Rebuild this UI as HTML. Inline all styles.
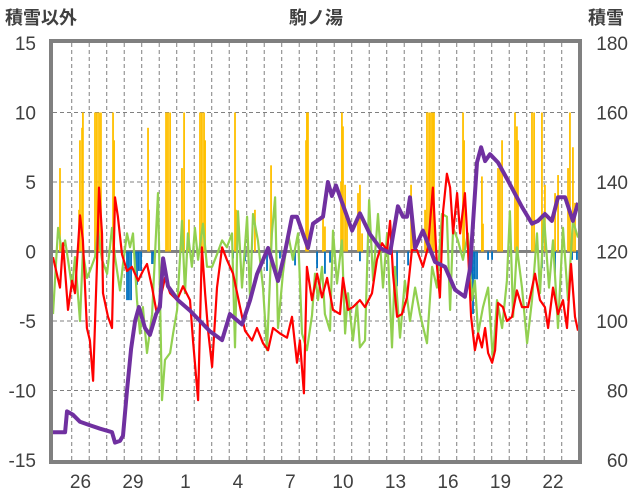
<!DOCTYPE html>
<html><head><meta charset="utf-8">
<style>
html,body{margin:0;padding:0;background:#fff;}
svg{display:block;font-family:"Liberation Sans","Noto Sans CJK JP",sans-serif;}
</style></head>
<body>
<svg id="chart" width="636" height="501" viewBox="0 0 636 501" xmlns="http://www.w3.org/2000/svg">
<text x="5" y="24" font-size="18" font-weight="bold" fill="#404040">積雪以外</text>
<text x="316" y="24" font-size="18" font-weight="bold" fill="#404040" text-anchor="middle">駒ノ湯</text>
<text x="588" y="24" font-size="18" font-weight="bold" fill="#404040">積雪</text>
<g id="grid"></g>
<g id="bars"></g>
<g id="lines"></g>
<g id="axes"></g>
</svg>
<script>
const xTickLabels=["26","29","1","4","7","10","13","16","19","22"];
const xTickDays=[1.57,4.57,7.57,10.57,13.57,16.57,19.57,22.57,25.57,28.57];
const leftTicks=[15,10,5,0,-5,-10,-15];
const rightTicks=[180,160,140,120,100,80,60];
const redT=[0,.4,.57,.86,1.09,1.26,1.54,1.71,1.94,2.11,2.29,2.51,2.63,2.8,2.86,3.14,3.37,3.54,3.71,3.94,4.23,4.51,4.86,5.14,5.37,5.66,5.94,6.4,6.69,7.09,7.43,7.83,8,8.29,8.51,8.69,8.86,9.09,9.37,9.66,9.94,10.29,10.57,10.97,11.37,11.66,12,12.29,12.57,12.97,13.37,13.66,13.94,14.11,14.34,14.51,14.8,15.09,15.37,15.66,16,16.4,16.57,16.86,17.14,17.54,17.83,18.23,18.51,18.8,19.09,19.26,19.43,19.66,19.94,20.23,20.51,20.8,21.14,21.43,21.71,21.94,22.11,22.29,22.51,22.69,22.86,23.09,23.26,23.54,23.71,23.89,24.11,24.29,24.51,24.69,24.86,25.09,25.26,25.43,25.71,25.94,26.23,26.51,26.8,27.14,27.54,27.83,28.11,28.29,28.57,28.86,29.14,29.37,29.6,29.83,30];
const redV=[-.4,-2.6,.6,-4.2,-2.1,-3,2.6,.8,-5.5,-6.4,-9.3,-1.1,4.6,1.3,-3,-4.7,-5.5,3.9,2.5,-.2,-1.4,-1.1,-2.1,-1.4,-.9,-2.6,-4.5,-1.9,-3,-3.5,-2.5,-3.5,-6.4,-10.7,.3,-3,-5.7,-8.3,-2.6,.3,-.6,-1.6,-3.3,-5.7,-6.4,-5.5,-6.6,-7.1,-5.5,-5.9,-6.2,-4.7,-8,-6.4,-10.2,-1.1,-3.5,-1.6,-3.3,-1.9,-4.2,-4.5,-1.9,-4.2,-4,-3.5,-4,-3,-.6,.6,.1,2.2,-1.6,-4.7,-4.5,-3.3,.1,.1,-1.1,.3,4.6,-1.1,-3.3,2.9,5.6,4.6,1.3,4.2,1.3,4.2,.3,-4.7,-7.1,-5.9,-6.9,-5.5,-7.3,-8,-7.1,-3.7,-4,-5,-4.7,-2.8,-4,-4,-1.6,-3.5,-4,-5.5,-2.6,-4.5,-3.5,-5.5,-.9,-4.7,-5.7];
const greenT=[0,.29,.51,.69,.86,1.09,1.26,1.54,1.71,1.94,2.11,2.4,2.57,2.8,3.09,3.37,3.54,3.83,4,4.23,4.4,4.57,4.8,4.97,5.14,5.37,5.66,6,6.23,6.4,6.69,6.86,7.09,7.37,7.54,7.71,7.94,8.11,8.29,8.57,8.8,9.09,9.37,9.66,9.94,10.23,10.4,10.57,10.8,11.09,11.26,11.43,11.71,12,12.23,12.51,12.69,12.86,13.14,13.43,13.71,14,14.23,14.51,14.8,14.97,15.14,15.37,15.54,15.83,16,16.23,16.51,16.69,16.86,17.14,17.37,17.54,17.83,18.06,18.29,18.57,18.86,19.09,19.37,19.54,19.83,20.11,20.4,20.69,20.97,21.37,21.66,21.94,22.23,22.51,22.69,22.86,23.14,23.43,23.71,23.94,24.11,24.29,24.57,24.86,25.14,25.37,25.66,25.94,26.11,26.29,26.51,26.8,27.09,27.37,27.66,27.83,28.06,28.34,28.57,28.86,29.14,29.43,29.71,30];
const greenV=[-4.5,1.7,0,.8,-.6,-2.6,-.4,-5,0,-1.9,-1.4,-.4,1.5,-.6,-1.6,1.7,-.4,-2.8,-.9,1.3,.3,1.3,-3.5,-5.9,-4,-7.3,-4.5,4.2,-10.7,-7.8,-7.3,-5.9,-4.2,2.2,-3,1.3,-1.1,1.7,-.6,2,-1.1,-1.1,-.2,.8,.3,1.3,-6.9,2.9,-2.6,2.5,-3.5,2.7,.8,-2.6,-7.1,1.3,3.9,-5.5,-1.6,1.3,-.6,1.3,-5.9,-7.1,-4.6,-1.6,-3.5,-1.1,-4.5,-5.7,1.5,-2.3,.8,-5.9,-3,-6.4,-3.7,-6.9,-6.4,3.7,-2.1,2.7,-2.6,1.3,-6.9,-1.1,-6.2,-2.1,-5,-2.6,-4.5,-6.6,-1.1,-2.6,2.7,2.5,-4.2,1.7,.8,-.6,1.3,-3.5,-2.1,-5.9,-4,-2.6,-7.8,-3.5,-5.5,-2.1,2.9,-4.7,.3,-2.6,-6.6,-3.5,1.3,-3,2.5,-2.6,.8,-5.5,1.7,-3.5,2.2,1];
const snowT=[0,.69,.8,1.14,1.54,2.11,2.69,3.37,3.54,3.83,4,4.23,4.46,4.69,4.91,5.26,5.54,5.89,6.11,6.29,6.57,7.14,7.83,8.4,8.97,9.66,10.11,10.8,11.26,11.66,12.29,12.86,13.26,13.66,13.94,14.57,14.86,15.43,15.71,15.94,16.17,17.09,17.54,18.11,18.69,19.26,19.71,20,20.23,20.4,20.69,21.14,21.83,22.4,22.97,23.54,23.83,24.23,24.46,24.69,24.97,25.43,26,26.8,27.37,27.71,28.11,28.51,28.86,29.26,29.71,30];
const snowV=[68,68,74,73,71,70,69,68,65,65.5,67,80,92,100,104,98,96,102,104,118,110,106,103,100,97,94.5,102,99,106,113.5,121,111.5,120,130,130,121,128,130,140,136,139,126,131,125,121,119.6,133,130,130,135.6,121,126,117,115.6,109,107,115,145.6,150,146,148,145.6,140.4,132.8,128,128.8,130.8,128.8,135.6,135.6,128.8,134];
const precipT=[.4,1.49,1.54,1.66,1.71,2.4,2.51,2.63,2.74,3.43,3.49,5.43,5.49,6.46,6.57,6.69,7.37,7.49,7.77,8.4,8.51,8.63,8.69,10.4,10.46,11.54,12.46,14.46,14.51,14.57,15.43,15.54,16.46,16.51,16.57,16.69,16.8,17.43,17.54,17.66,20.46,20.51,21.26,21.37,21.49,21.6,21.71,21.77,23.43,23.49,24.51,24.57,25.43,25.54,25.66,26.4,26.51,26.57,27.37,27.49,27.94,28.11,28.69,28.86,29.43,29.54,29.71,29.83];
const precipV=[6,3,8,8.9,10,10,10,10,10,10,8,8.9,3,10,10,10,6,10,2.3,10,10,10,8,10,3,3,6.2,8,10,10,3,1.8,5,10,9,4.8,2.3,4.2,4.8,1.3,4.8,1.3,3,10,10,10,10,10,10,8,5.4,2,6,6.4,8,10,9,8,10,10,10,4.8,4.2,5.5,6,10,7.5,3.5];
const meltT=[4.23,4.34,4.46,4.69,4.8,4.91,5.03,5.66,5.77,10.29,10.97,12.23,12.97,13.83,15.09,15.54,15.83,17.54,19.66,20.29,23.94,24,24.11,24.23,24.86,25.09,27.94,28.69,29.66,29.94];
const meltV=[-3.5,-3.5,-3.5,-1.4,-2.4,-1.4,-1.4,-.9,-.9,-.5,-.7,-1.4,-.5,-1,-1.2,-1.6,-.8,-.7,-2.5,-1,-2,-4.5,-2,-2,-.6,-.6,-1.2,-1.6,-.6,-.6];

const NS="http://www.w3.org/2000/svg";
const X0=53,X1=578,Y0=43,Y1=460;
const xs=t=>X0+t/30*(X1-X0);
const yl=v=>Y1-(v+15)/30*(Y1-Y0);
const yr=v=>Y1-(v-60)/120*(Y1-Y0);
function mk(tag,attrs,parent){const e=document.createElementNS(NS,tag);for(const k in attrs)e.setAttribute(k,attrs[k]);parent.appendChild(e);return e;}
const grid=document.getElementById('grid'),bars=document.getElementById('bars'),lines=document.getElementById('lines'),axes=document.getElementById('axes');
for(let k=0;k<29;k++){const x=xs(1.07+k);const l=mk('line',{x1:x,x2:x,y1:Y0,y2:Y1,stroke:'#808080','stroke-width':1,'stroke-dasharray':'4,3'},grid);

}
leftTicks.forEach((v,i)=>{const y=yl(v);
if(v!==0&&v!==15&&v!==-15){const l=mk('line',{x1:X0,x2:X1,y1:y,y2:y,stroke:'#808080','stroke-width':1,'stroke-dasharray':'4,3'},grid);

}
const t=mk('text',{x:36,y:y+7,'font-size':19,'text-anchor':'end',fill:'#404040'},axes);t.textContent=v;


const r=mk('text',{x:628,y:yr(rightTicks[i])+7,'font-size':19,'text-anchor':'end',fill:'#404040'},axes);r.textContent=rightTicks[i];

});
xTickLabels.forEach((s,i)=>{const t=mk('text',{x:xs(xTickDays[i]),y:488,'font-size':19,'text-anchor':'middle',fill:'#404040'},axes);t.textContent=s;

});
precipT.forEach((t,i)=>{const y=yl(Math.min(precipV[i],15));const b=mk('rect',{x:xs(t)-0.9,y:y,width:1.8,height:yl(0)-y,fill:'#FFC000'},bars);

});
meltT.forEach((t,i)=>{const y=yl(meltV[i]);const b=mk('rect',{x:xs(t)-0.9,y:yl(0),width:1.8,height:y-yl(0),fill:'#0070C0'},bars);

});
const zl=mk('line',{x1:X0,x2:X1,y1:yl(0),y2:yl(0),stroke:'#808080','stroke-width':3},grid);


function poly(T,V,f,color,w,name){const p=mk('polyline',{points:T.map((t,i)=>xs(t).toFixed(1)+','+f(V[i]).toFixed(1)).join(' '),fill:'none',stroke:color,'stroke-width':w,'stroke-linejoin':'round'},lines);return p;}
const gl=poly(greenT,greenV,yl,'#92D050',2.2);


const rl=poly(redT,redV,yl,'#FF0000',2.2);


const sl=poly(snowT,snowV,yr,'#7030A0',4);


const fr=mk('rect',{x:51,y:41,width:529,height:421,fill:'none',stroke:'#808080','stroke-width':4},axes);


</script>
</body></html>
